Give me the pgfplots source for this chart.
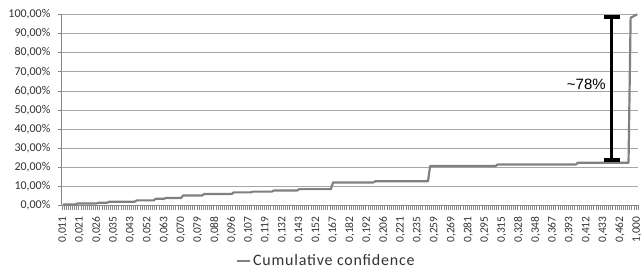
\documentclass[border=0pt]{standalone}
\usepackage{pgfplots}
\pgfplotsset{compat=1.18}
\usepackage{fontspec}
\setmainfont{Carlito}
\newfontfamily\legendfont[LetterSpace=5]{Carlito}
\newfontfamily\arialf{Liberation Sans}
\definecolor{linegray}{HTML}{808080}
\definecolor{gridgray}{HTML}{A6A6A6}
\definecolor{axisgray}{HTML}{868686}
\begin{document}
\begin{tikzpicture}
\useasboundingbox (-62pt,-70pt) rectangle (582pt,206pt);
\begin{axis}[
  at={(0pt,0pt)}, anchor=south west,
  scale only axis,
  width=578pt, height=191.5pt,
  xmin=-0.5, xmax=272.5,
  ymin=0, ymax=100,
  clip=false,
  axis lines=left,
  axis line style={-, draw=axisgray, line width=0.8pt},
  ymajorgrids,
  grid style={gridgray, line width=0.6pt},
  ytick={0,10,...,100},
  yticklabels={{0,00\%},{10,00\%},{20,00\%},{30,00\%},{40,00\%},{50,00\%},{60,00\%},{70,00\%},{80,00\%},{90,00\%},{100,00\%}},
  xtick={0,8,...,272},
  xticklabels={{0,011},{0,021},{0,026},{0,035},{0,043},{0,052},{0,063},{0,070},{0,079},{0,088},{0,096},{0,107},{0,119},{0,132},{0,143},{0,152},{0,167},{0,182},{0,192},{0,206},{0,221},{0,235},{0,259},{0,269},{0,281},{0,295},{0,315},{0,328},{0,348},{0,367},{0,393},{0,412},{0,433},{0,462},{1,000}},
  minor xtick={-0.5,0.5,...,272.5},
  tick align=outside,
  major tick length=4pt,
  minor tick length=5pt,
  major x tick style={draw=none},
  minor x tick style={draw=axisgray, line width=0.6pt},
  y tick style={draw=axisgray, line width=0.6pt},
  x tick label style={yshift=-6pt, rotate=90, anchor=east, font=\fontsize{11.5}{12}\selectfont, text=black!80, inner sep=1pt},
  y tick label style={font=\fontsize{12}{13}\selectfont, text=black!80, xshift=-4pt},
  legend style={at={(0.459,-0.292)}, anchor=center, draw=none, fill=none, font=\legendfont\fontsize{16}{18}\selectfont, text=black!80, inner sep=0pt},
  legend image code/.code={\draw[#1] (0pt,0pt) -- (13pt,0pt);},
]
\addplot[linegray, line width=2.2pt, line join=round] coordinates {
(0,0.5)(6,0.5)(7,1.0)(16,1.0)(17,1.4)(21,1.4)(22,1.9)(34,1.9)(35,2.6)(43,2.6)
(44,3.5)(48,3.5)(49,3.9)(56,3.9)(57,5.2)(66,5.2)(67,6.0)(80,6.0)(81,6.8)(89,6.8)
(90,7.2)(99,7.2)(100,7.8)(111,7.8)(112,8.5)(127,8.5)(128,12.0)(147,12.0)(148,12.6)(173,12.6)
(174,20.6)(205,20.6)(206,21.4)(243,21.4)(244,22.3)(268,22.3)(269,98.3)(270,98.8)(271,99.5)(272,100)
};
\addlegendentry{Cumulative confidence}
\addplot[black, line width=3pt, mark=-, mark size=8pt, mark options={line width=3.8pt}, forget plot] coordinates {(260,23.6)(260,98.6)};
\node[font=\arialf\fontsize{15}{17}\selectfont, text=black] at (axis cs:248,63.5) {\textasciitilde 78\%};
\end{axis}
\end{tikzpicture}
\end{document}
